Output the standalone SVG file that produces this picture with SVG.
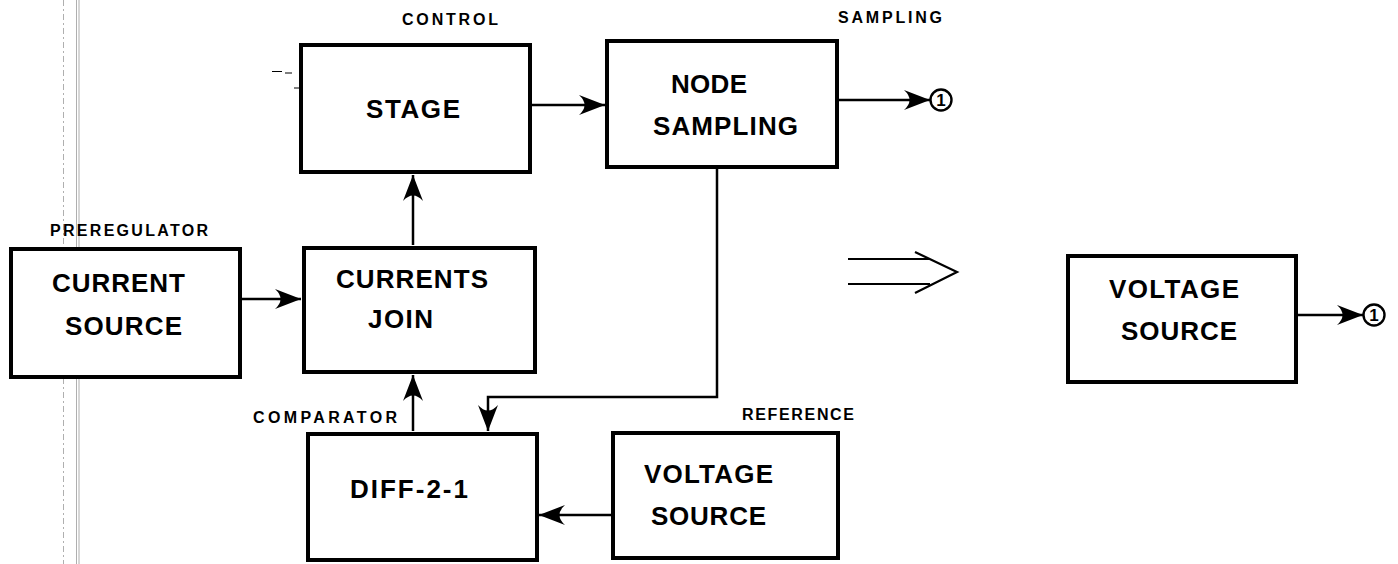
<svg xmlns="http://www.w3.org/2000/svg" width="1398" height="564" viewBox="0 0 1398 564">
<style>
.box{fill:#fff;stroke:#000;stroke-width:4}
.big{font-family:"Liberation Sans",Arial,sans-serif;font-weight:bold;font-size:26px;fill:#000}
.lbl{font-family:"Liberation Sans",Arial,sans-serif;font-weight:bold;font-size:16px;fill:#000}
.num{font-family:"Liberation Sans",Arial,sans-serif;font-weight:bold;font-size:17px;fill:#000;text-anchor:middle}
.arw{fill:none;stroke:#000;stroke-width:2.5;marker-end:url(#ah)}
.term{fill:#fff;stroke:#000;stroke-width:2.4}
.scan{stroke:#9a9a9a;stroke-width:0.8;fill:none}
</style>
<defs>
<marker id="ah" markerUnits="userSpaceOnUse" markerWidth="30" markerHeight="26" viewBox="-28 -13 30 26" refX="0" refY="0" orient="auto">
<path d="M0,0 L-26,-10 Q-15,0 -26,10 Z" fill="#000"/>
</marker>
</defs>
<rect width="1398" height="564" fill="#fff"/>
<g id="scan-artifacts">
<line class="scan" x1="63.5" y1="0" x2="63.5" y2="564" stroke-dasharray="6 3 2 3"/>
<line class="scan" x1="76.5" y1="0" x2="76.5" y2="564"/>
<line class="scan" x1="79" y1="0" x2="79" y2="564"/>
<path d="M272,71.5 H282 M285,73 H292 M294,88 H300" stroke="#000" stroke-width="1.2" fill="none"/>
</g>
<g id="connectors">
<path class="arw" d="M532,105 H605"/>
<path class="arw" d="M839,100 H930"/>
<path class="arw" d="M242,299 H301"/>
<path class="arw" d="M413,245 V175"/>
<path class="arw" d="M413,431 V375"/>
<path class="arw" d="M717,167 V397 H488 V431"/>
<path class="arw" d="M612,515 H539"/>
<path class="arw" d="M1298,315 H1363"/>
</g>
<g id="stage">
<rect class="box" x="301" y="45" width="229" height="127"/>
<text class="big" x="366" y="118" textLength="94" lengthAdjust="spacing">STAGE</text>
<text class="lbl" x="402" y="25" textLength="96" lengthAdjust="spacing">CONTROL</text>
</g>
<g id="node-sampling">
<rect class="box" x="607" y="41" width="230" height="126"/>
<text class="big" x="671" y="93" textLength="76" lengthAdjust="spacing">NODE</text>
<text class="big" x="653" y="135" textLength="145" lengthAdjust="spacing">SAMPLING</text>
<text class="lbl" x="838" y="23" textLength="104" lengthAdjust="spacing">SAMPLING</text>
</g>
<g id="terminal-1">
<circle class="term" cx="941" cy="100" r="10.5"/>
<text class="num" x="941" y="106">1</text>
</g>
<g id="current-source">
<rect class="box" x="11" y="249" width="229" height="128"/>
<text class="big" x="52" y="292" textLength="133" lengthAdjust="spacing">CURRENT</text>
<text class="big" x="65" y="335" textLength="117" lengthAdjust="spacing">SOURCE</text>
<text class="lbl" x="50" y="236" textLength="158" lengthAdjust="spacing">PREREGULATOR</text>
</g>
<g id="currents-join">
<rect class="box" x="304" y="248" width="231" height="124"/>
<text class="big" x="336" y="288" textLength="152" lengthAdjust="spacing">CURRENTS</text>
<text class="big" x="368" y="328" textLength="65" lengthAdjust="spacing">JOIN</text>
</g>
<g id="diff">
<rect class="box" x="308" y="434" width="229" height="126"/>
<text class="big" x="350" y="498" textLength="118" lengthAdjust="spacing">DIFF-2-1</text>
<text class="lbl" x="253" y="423" textLength="144" lengthAdjust="spacing">COMPARATOR</text>
</g>
<g id="reference-voltage-source">
<rect class="box" x="613" y="433" width="225" height="125"/>
<text class="big" x="644" y="483" textLength="129" lengthAdjust="spacing">VOLTAGE</text>
<text class="big" x="651" y="525" textLength="115" lengthAdjust="spacing">SOURCE</text>
<text class="lbl" x="742" y="420" textLength="112" lengthAdjust="spacing">REFERENCE</text>
</g>
<g id="equivalence-arrow">
<path d="M848,259 H930 M848,284 H930 M915,252 L957,272 L915,293" fill="none" stroke="#000" stroke-width="2.2"/>
</g>
<g id="voltage-source">
<rect class="box" x="1068" y="256" width="228" height="126"/>
<text class="big" x="1109" y="298" textLength="130" lengthAdjust="spacing">VOLTAGE</text>
<text class="big" x="1121" y="340" textLength="116" lengthAdjust="spacing">SOURCE</text>
</g>
<g id="terminal-2">
<circle class="term" cx="1374" cy="315" r="10.5"/>
<text class="num" x="1374" y="321">1</text>
</g>
</svg>
